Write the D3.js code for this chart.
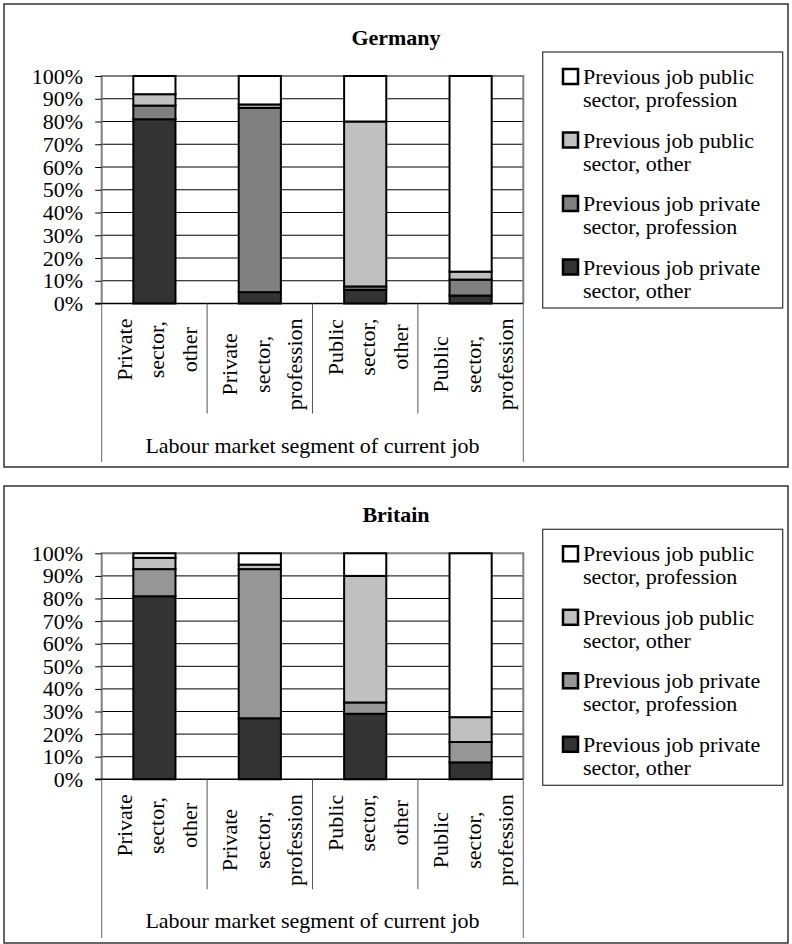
<!DOCTYPE html>
<html>
<head>
<meta charset="utf-8">
<script src="https://cdn.jsdelivr.net/npm/d3@7"></script>
<style>
body { margin: 0; background: #fff; }
svg { display: block; }
</style>
</head>
<body>
<svg id="chart"></svg>
<script>
// categories on the x axis (label lines as they wrap in the original)
const categories = ['Private sector, other', 'Private sector, profession', 'Public sector, other', 'Public sector, profession'];
const categoryLines = [
    ['Private', 'sector,', 'other'],
    ['Private', 'sector,', 'profession'],
    ['Public', 'sector,', 'other'],
    ['Public', 'sector,', 'profession']
];

// stack order, bottom to top
const seriesKeys = ['privOther', 'privProf', 'pubOther', 'pubProf'];
const seriesLabels = [
    ['Previous job private', 'sector, other'],
    ['Previous job private', 'sector, profession'],
    ['Previous job public', 'sector, other'],
    ['Previous job public', 'sector, profession']
];

// shares in percent
const germanyPrivOther = [81, 5, 6, 3.5];
const germanyPrivProf = [6, 81, 1.5, 7];
const germanyPubOther = [5, 1.5, 72.5, 3.5];
const germanyPubProf = [8, 12.5, 20, 86];

const britainPrivOther = [81, 27, 29, 7.5];
const britainPrivProf = [12, 66, 5, 9];
const britainPubOther = [5, 2, 56, 11];
const britainPubProf = [2, 5, 10, 72.5];

const yTicks = [0, 0.1, 0.2, 0.3, 0.4, 0.5, 0.6, 0.7, 0.8, 0.9, 1];
const axisTitle = 'Labour market segment of current job';

const width = 792;
const height = 944;
const plotLeft = 101.7;
const plotRight = 523.3;
const FONT = '"Liberation Serif"';

function rows(a, b, c, d) { // build the table d3.stack expects
    return categories.map((cat, i) => ({
        cat: cat, privOther: a[i], privProf: b[i], pubOther: c[i], pubProf: d[i]
    }));
}

const panels = [
    {
        title: 'Germany', top: 4, height: 463, plotTop: 76, plotH: 227.5,
        data: rows(germanyPrivOther, germanyPrivProf, germanyPubOther, germanyPubProf),
        colors: ['#333333', '#808080', '#c0c0c0', '#ffffff']
    },
    {
        title: 'Britain', top: 486, height: 457, plotTop: 553.3, plotH: 226,
        data: rows(britainPrivOther, britainPrivProf, britainPubOther, britainPubProf),
        colors: ['#333333', '#969696', '#c0c0c0', '#ffffff']
    }
];

const svg = d3.select('#chart')
    .attr('width', width)
    .attr('height', height);

const x = d3.scaleBand()
    .domain(categories)
    .range([plotLeft, plotRight])
    .padding(0);

const stack = d3.stack().keys(seriesKeys);

function label(sel, size) { // serif text, set inline so nothing overrides it
    return sel.style('font-family', FONT).style('font-size', size + 'px').attr('fill', '#000');
}

panels.forEach(p => {
    const g = svg.append('g');
    const axisY = p.plotTop + p.plotH;

    const y = d3.scaleLinear()
        .domain([0, 1])
        .range([axisY, p.plotTop]);

    // chart area border
    g.append('rect')
        .attr('x', 4).attr('y', p.top)
        .attr('width', width - 8).attr('height', p.height)
        .attr('fill', '#fff')
        .attr('stroke', '#333').attr('stroke-width', 1.5);

    // title
    label(g.append('text'), 22)
        .attr('x', width / 2)
        .attr('y', p.plotTop - 31)
        .attr('text-anchor', 'middle')
        .style('font-weight', 'bold')
        .text(p.title);

    // gridlines
    g.selectAll('.grid').data(yTicks.slice(1, -1))
        .enter().append('line')
        .attr('x1', plotLeft).attr('x2', plotRight)
        .attr('y1', d => y(d)).attr('y2', d => y(d))
        .attr('stroke', '#000').attr('stroke-width', 1);

    // plot area border (top, right, left in grey)
    g.append('path')
        .attr('d', `M${plotLeft},${axisY}V${p.plotTop}H${plotRight}V${axisY}`)
        .attr('fill', 'none')
        .attr('stroke', '#808080').attr('stroke-width', 2);

    // y axis
    const yAxis = g.append('g')
        .attr('transform', `translate(${plotLeft},0)`)
        .call(d3.axisLeft(y).tickValues(yTicks).tickFormat(d3.format('.0%')).tickSize(6.5).tickPadding(12));
    yAxis.select('.domain').remove();
    yAxis.selectAll('line').attr('stroke', '#000');
    label(yAxis.selectAll('text'), 22);

    // stacked bars
    const barW = x.bandwidth() * 0.4;
    const series = stack(p.data.map(r => {
        const o = { cat: r.cat };
        seriesKeys.forEach(k => o[k] = r[k] / 100);
        return o;
    }));
    g.selectAll('.layer').data(series)
        .enter().append('g')
        .attr('fill', (d, i) => p.colors[i])
        .selectAll('rect').data(d => d)
        .enter().append('rect')
        .attr('x', d => x(d.data.cat) + (x.bandwidth() - barW) / 2)
        .attr('y', d => y(d[1]))
        .attr('width', barW)
        .attr('height', d => y(d[0]) - y(d[1]))
        .attr('stroke', '#000').attr('stroke-width', 2);

    // category axis line
    g.append('line')
        .attr('x1', plotLeft - 6.5).attr('x2', plotRight)
        .attr('y1', axisY).attr('y2', axisY)
        .attr('stroke', '#000').attr('stroke-width', 1.5);

    // dividers between categories
    g.selectAll('.div').data(categories.slice(1))
        .enter().append('line')
        .attr('x1', d => x(d)).attr('x2', d => x(d))
        .attr('y1', axisY).attr('y2', axisY + 110)
        .attr('stroke', '#555').attr('stroke-width', 1);

    // outer lines down to the axis title
    g.selectAll('.edge').data([plotLeft, plotRight])
        .enter().append('line')
        .attr('x1', d => d).attr('x2', d => d)
        .attr('y1', axisY).attr('y2', p.top + p.height - 5)
        .attr('stroke', '#666').attr('stroke-width', 1);

    // rotated category labels, block anchored to the top, lines centred
    categories.forEach((cat, i) => {
        const lg = g.append('g');
        const texts = categoryLines[i].map(t => label(lg.append('text'), 22)
            .attr('text-anchor', 'middle')
            .attr('dominant-baseline', 'central')
            .text(t));
        const maxLen = d3.max(texts, t => t.node().getComputedTextLength());
        const cy = axisY + 15 + maxLen / 2;
        const cx = x(cat) + x.bandwidth() / 2 + 2.5;
        texts.forEach((t, j) => {
            t.attr('transform', `translate(${cx + (j - 1) * 32.5},${cy}) rotate(-90)`);
        });
    });

    // axis title
    label(g.append('text'), 22)
        .attr('x', (plotLeft + plotRight) / 2)
        .attr('y', axisY + 149)
        .attr('text-anchor', 'middle')
        .text(axisTitle);

    // legend
    const legTop = p.plotTop - 24;
    g.append('rect')
        .attr('x', 542.7).attr('y', legTop)
        .attr('width', 240).attr('height', 256)
        .attr('fill', '#fff')
        .attr('stroke', '#333').attr('stroke-width', 1.2);

    const order = [3, 2, 1, 0]; // legend lists the top of the stack first
    order.forEach((s, i) => {
        const base = legTop + 32 + i * 63.5;
        g.append('rect')
            .attr('x', 563).attr('y', base - 15)
            .attr('width', 15).attr('height', 15)
            .attr('fill', p.colors[s])
            .attr('stroke', '#000').attr('stroke-width', 2.5);
        seriesLabels[s].forEach((t, j) => {
            label(g.append('text'), 22)
                .attr('x', 583)
                .attr('y', base + j * 23)
                .text(t);
        });
    });
});
</script>
</body>
</html>
